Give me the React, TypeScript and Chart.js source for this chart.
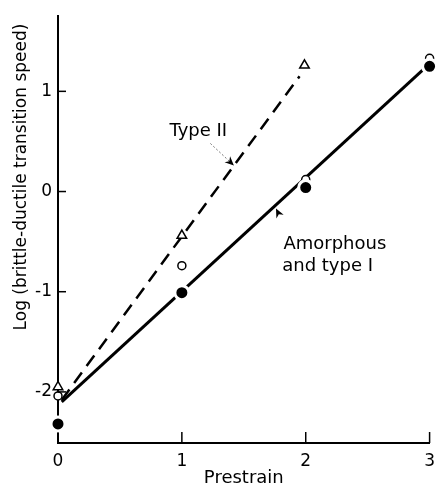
import React, { useEffect, useRef } from "react";
import { Chart, registerables } from "chart.js";

Chart.register(...registerables);

// Axis ticks
const xTicks = [0, 1, 2, 3];
const yTicks = [-2, -1, 0, 1];

// Measured points
const prestrain = [0, 1, 2, 3];
const amorphousFilled = [-2.32, -1.01, 0.04, 1.25];
const amorphousOpen = [-2.04, -0.74, 0.12, 1.33];
const typeIIPrestrain = [0, 1, 1.99];
const typeIIValues = [-1.95, -0.44, 1.26];

// Fitted lines
const fitAmorphousX = [0.03, 2.95];
const fitAmorphousY = [-2.1, 1.22];
const fitTypeIIX = [0.03, 1.95];
const fitTypeIIY = [-2.08, 1.15];

const FONT = "'DejaVu Sans', sans-serif";

const pts = (xs: number[], ys: number[]) => xs.map((x, i) => ({ x, y: ys[i] }));

const arrowHead = (ctx: CanvasRenderingContext2D, tx: number, ty: number, angle: number, len: number) => {
  ctx.save();
  ctx.translate(tx, ty);
  ctx.rotate(angle);
  ctx.beginPath();
  ctx.moveTo(0, 0);
  ctx.lineTo(-len, -len * 0.45);
  ctx.lineTo(-len * 0.7, 0);
  ctx.lineTo(-len, len * 0.45);
  ctx.closePath();
  ctx.fillStyle = "#000";
  ctx.fill();
  ctx.restore();
};

const decorations = {
  id: "decorations",
  afterDatasetsDraw(chart: any) {
    const { ctx, scales } = chart;
    const xs = scales.x;
    const ys = scales.y;
    ctx.save();
    // inward tick marks
    ctx.strokeStyle = "#000";
    ctx.lineWidth = 1.5;
    const left = chart.chartArea.left;
    const bottom = chart.chartArea.bottom;
    yTicks.forEach((v) => {
      const py = ys.getPixelForValue(v);
      ctx.beginPath();
      ctx.moveTo(left, py);
      ctx.lineTo(left + 8, py);
      ctx.stroke();
    });
    xTicks.forEach((v) => {
      if (v === 0) return;
      const px = xs.getPixelForValue(v);
      ctx.beginPath();
      ctx.moveTo(px, bottom);
      ctx.lineTo(px, bottom - 11);
      ctx.stroke();
    });

    ctx.fillStyle = "#000";
    ctx.textBaseline = "middle";
    ctx.textAlign = "left";
    ctx.font = `18px ${FONT}`;
    ctx.fillText("Type II", xs.getPixelForValue(0.9), ys.getPixelForValue(0.6));
    ctx.fillText("Amorphous", xs.getPixelForValue(1.82), ys.getPixelForValue(-0.53));
    ctx.fillText("and type I", xs.getPixelForValue(1.81), ys.getPixelForValue(-0.75));

    // Type II pointer
    const ax0 = xs.getPixelForValue(1.23), ay0 = ys.getPixelForValue(0.48);
    const ax1 = xs.getPixelForValue(1.42), ay1 = ys.getPixelForValue(0.26);
    ctx.strokeStyle = "#777";
    ctx.lineWidth = 1;
    ctx.setLineDash([2, 2]);
    ctx.beginPath();
    ctx.moveTo(ax0, ay0);
    ctx.lineTo(ax1, ay1);
    ctx.stroke();
    ctx.setLineDash([]);
    arrowHead(ctx, ax1, ay1, Math.atan2(ay1 - ay0, ax1 - ax0), 9);

    // Amorphous pointer
    arrowHead(ctx, xs.getPixelForValue(1.76), ys.getPixelForValue(-0.17), Math.atan2(-1, -0.5), 9);

    // axis titles
    ctx.font = `18px ${FONT}`;
    ctx.textAlign = "center";
    ctx.textBaseline = "alphabetic";
    ctx.fillText("Prestrain", (chart.chartArea.left + chart.chartArea.right) / 2, 483);

    ctx.translate(22, 177);
    ctx.rotate(-Math.PI / 2);
    ctx.font = `17px ${FONT}`;
    ctx.textBaseline = "middle";
    ctx.fillText("Log (brittle-ductile transition speed)", 0, 0);
    ctx.restore();
  },
};

export default function App() {
  const ref = useRef<HTMLCanvasElement>(null);

  useEffect(() => {
    if (!ref.current) return;
    const chart = new Chart(ref.current, {
      type: "scatter",
      data: {
        datasets: [
          {
            label: "Amorphous and type I (filled)",
            data: pts(prestrain, amorphousFilled),
            pointStyle: "circle",
            pointRadius: 7,
            pointBackgroundColor: "#000",
            pointBorderColor: "#fff",
            pointBorderWidth: 3,
            showLine: false,
            clip: false,
            order: 0,
          },
          {
            label: "Amorphous and type I (open)",
            data: pts(prestrain, amorphousOpen),
            pointStyle: "circle",
            pointRadius: 4,
            pointBackgroundColor: "#fff",
            pointBorderColor: "#000",
            pointBorderWidth: 1.5,
            showLine: false,
            clip: false,
            order: 1,
          },
          {
            label: "Type II",
            data: pts(typeIIPrestrain, typeIIValues),
            pointStyle: "triangle",
            pointRadius: 5.5,
            pointBackgroundColor: "#fff",
            pointBorderColor: "#000",
            pointBorderWidth: 1.5,
            showLine: false,
            clip: false,
            order: 2,
          },
          {
            label: "Amorphous fit",
            data: pts(fitAmorphousX, fitAmorphousY),
            showLine: true,
            borderColor: "#000",
            borderWidth: 3,
            pointRadius: 0,
            clip: false,
            order: 5,
          },
          {
            label: "Type II fit",
            data: pts(fitTypeIIX, fitTypeIIY),
            showLine: true,
            borderColor: "#000",
            borderWidth: 2.5,
            borderDash: [13, 8],
            pointRadius: 0,
            clip: false,
            order: 6,
          },
        ],
      },
      options: {
        animation: false,
        responsive: false,
        layout: { padding: { top: 12, right: 6, left: 0, bottom: 0 } },
        plugins: { legend: { display: false }, tooltip: { enabled: false } },
        scales: {
          x: {
            type: "linear",
            min: 0,
            max: 3,
            afterFit: (s: any) => { s.height = 42; },
            afterBuildTicks: (s: any) => { s.ticks = xTicks.map((v) => ({ value: v })); },
            grid: { drawOnChartArea: false, drawTicks: false },
            border: { display: true, color: "#000", width: 2 },
            ticks: { padding: 8, color: "#000", font: { family: FONT, size: 17 }, maxRotation: 0 },
          },
          y: {
            type: "linear",
            min: -2.51,
            max: 1.75,
            afterFit: (s: any) => { s.width = 58; },
            afterBuildTicks: (s: any) => { s.ticks = yTicks.map((v) => ({ value: v })); },
            grid: { drawOnChartArea: false, drawTicks: false },
            border: { display: true, color: "#000", width: 2 },
            ticks: { padding: 6, color: "#000", font: { family: FONT, size: 17 } },
          },
        },
      },
      plugins: [decorations],
    });
    return () => chart.destroy();
  }, []);

  return (
    <div style={{ position: "absolute", left: 0, top: 0, width: 443, height: 485, background: "#fff" }}>
      <canvas ref={ref} width={443} height={485} />
    </div>
  );
}
